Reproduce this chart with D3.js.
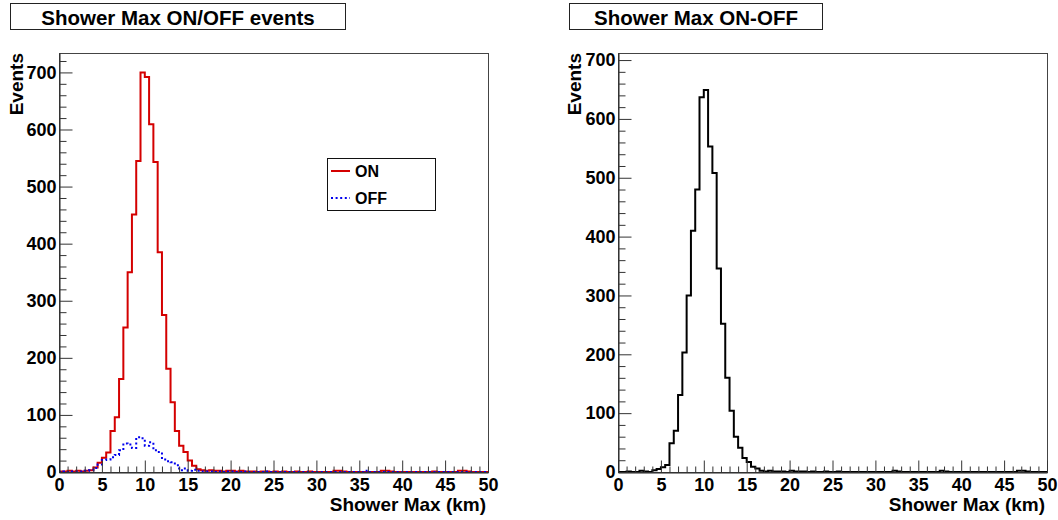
<!DOCTYPE html>
<html><head><meta charset="utf-8">
<script src="https://cdn.jsdelivr.net/npm/d3@7"></script>
<style>
body{margin:0;background:#fff}
svg{display:block}
text{font-family:"Liberation Sans",Arial,Helvetica,sans-serif;font-weight:bold;fill:#000}
</style>
</head><body>
<svg id="c" width="1058" height="520"></svg>
<script>
// ---------------- data ----------------
const binWidth = 0.5;            // km
const nBins = 100;               // 0 .. 50 km
const xMajorTicks = [0,5,10,15,20,25,30,35,40,45,50];
const xMinorTicks = [1,2,3,4,6,7,8,9,11,12,13,14,16,17,18,19,21,22,23,24,26,27,28,29,31,32,33,34,36,37,38,39,41,42,43,44,46,47,48,49];
const yMajorTicks = [0,100,200,300,400,500,600,700];
const yMinorTicks = [20,40,60,80,120,140,160,180,220,240,260,280,320,340,360,380,420,440,460,480,520,540,560,580,620,640,660,680,720];

const onEvents = [
  1,1,2,1,2,1,2,3,8,16,
  25,34,72,96,163,253,350,451,545,700,
  692,609,543,385,275,181,122,72,46,35,
  20,11,5,3,2,3,2,2,1,2,
  2,1,2,1,1,1,0,1,1,0,
  1,0,1,0,0,1,0,0,1,0,
  0,0,0,0,2,2,1,0,0,0,
  0,0,0,0,0,2,2,1,0,0,
  0,0,0,0,0,0,0,1,0,0,
  0,0,0,2,2,1,0,0,0,0
];
const offEvents = [
  0,1,0,1,1,1,2,3,7,13,
  21,22,26,30,38,50,48,42,61,59,
  46,52,38,35,22,19,17,12,3,6,
  2,4,2,1,1,1,0,1,0,1,
  1,0,0,1,0,0,0,0,1,0,
  0,0,0,0,0,0,0,0,0,0,
  0,0,0,0,0,0,0,0,0,0,
  0,2,0,0,0,0,0,0,0,0,
  0,0,0,0,0,0,0,0,0,0,
  0,0,0,0,0,0,0,0,0,0
];
const diffEvents = [
  0,0,1,0,0,2,1,0,3,5,
  8,12,49,70,131,203,300,410,480,637,
  649,553,508,346,252,160,104,60,41,24,
  17,9,6,2,1,2,1,1,1,0,
  2,1,1,1,0,1,0,0,1,0,
  0,1,0,0,0,0,0,0,0,0,
  0,0,0,0,2,1,0,0,0,0,
  0,0,0,0,0,2,1,0,0,0,
  0,0,0,0,0,0,0,0,0,0,
  0,0,0,2,2,1,0,0,0,0
];

const titles = ["Shower Max ON/OFF events", "Shower Max ON-OFF"];
const legendLabels = ["ON", "OFF"];
const xTitle = "Shower Max (km)";
const yTitle = "Events";

// ---------------- drawing ----------------
const svg = d3.select("#c");
const yTop = 53, yBottom = 472;

const panels = [
  {x0:59, x1:488, yMax:734, series:[{v:onEvents, color:"#d40000", dash:null},
                                     {v:offEvents, color:"#0000ee", dash:"2,2.6"}],
   title:titles[0], tbox:[10.5,3.5,335,26], yTitleX:23},
  {x0:618, x1:1047, yMax:712, series:[{v:diffEvents, color:"#000", dash:null}],
   title:titles[1], tbox:[569.5,3.5,253,26], yTitleX:581}
];

panels.forEach(p => {
  const x = d3.scaleLinear().domain([0,50]).range([p.x0, p.x1]);
  const y = d3.scaleLinear().domain([0,p.yMax]).range([yBottom, yTop]);
  const g = svg.append("g");

  // histograms
  const line = d3.line().curve(d3.curveStepAfter)
     .x(d => x(d[0])).y(d => y(d[1]));
  p.series.forEach(s => {
    const pts = s.v.map((v,i) => [i*binWidth, v]);
    pts.push([nBins*binWidth, s.v[nBins-1]]);
    g.append("path").attr("d", line(pts))
      .attr("fill","none").attr("stroke", s.color).attr("stroke-width",2)
      .attr("stroke-dasharray", s.dash);
  });

  // frame
  g.append("rect").attr("x",p.x0+0.5).attr("y",yTop+0.5)
    .attr("width",p.x1-p.x0).attr("height",yBottom-yTop)
    .attr("fill","none").attr("stroke","#444").attr("stroke-width",1);

  // x axis
  g.append("g").attr("transform",`translate(0,${yBottom+0.5})`)
    .call(d3.axisBottom(x).tickValues(xMajorTicks).tickFormat(d3.format("d"))
      .tickSizeInner(-12).tickSizeOuter(0).tickPadding(6));
  g.append("g").attr("transform",`translate(0,${yBottom+0.5})`)
    .call(d3.axisBottom(x).tickValues(xMinorTicks).tickFormat("")
      .tickSizeInner(-6).tickSizeOuter(0))
    .select(".domain").remove();
  // y axis
  g.append("g").attr("transform",`translate(${p.x0+0.5},0)`)
    .call(d3.axisLeft(y).tickValues(yMajorTicks).tickFormat(d3.format("d"))
      .tickSizeInner(-13).tickSizeOuter(0).tickPadding(3));
  g.append("g").attr("transform",`translate(${p.x0+0.5},0)`)
    .call(d3.axisLeft(y).tickValues(yMinorTicks.filter(t => t < p.yMax)).tickFormat("")
      .tickSizeInner(-7).tickSizeOuter(0))
    .select(".domain").remove();

  g.selectAll(".tick line").attr("stroke","#333");
  g.selectAll(".domain").attr("stroke","#222");
  g.selectAll(".tick text").attr("font-size",18)
    .attr("font-family",'"Liberation Sans",Arial,sans-serif').attr("font-weight","bold").attr("fill","#000");

  // axis titles
  g.append("text").attr("x",p.x1-2).attr("y",511).attr("text-anchor","end")
    .attr("font-size",19).text(xTitle);
  g.append("text").attr("transform",`translate(${p.yTitleX},${yTop})rotate(-90)`)
    .attr("text-anchor","end").attr("font-size",19).text(yTitle);

  // title box
  const [bx,by,bw,bh] = p.tbox;
  svg.append("rect").attr("x",bx).attr("y",by).attr("width",bw).attr("height",bh)
    .attr("fill","#fff").attr("stroke","#222").attr("stroke-width",1);
  svg.append("text").attr("x",bx+bw/2).attr("y",by+21.5).attr("text-anchor","middle")
    .attr("font-size",20.5).text(p.title);
});

// legend (left panel)
const leg = svg.append("g");
leg.append("rect").attr("x",327.5).attr("y",158.5).attr("width",108).attr("height",52)
  .attr("fill","#fff").attr("stroke","#111").attr("stroke-width",1);
const legItems = [
  {label:legendLabels[0], color:"#d40000", dash:null, y:171, ty:177},
  {label:legendLabels[1], color:"#0000ee", dash:"2,2.6", y:198, ty:204}
];
legItems.forEach(it => {
  leg.append("line").attr("x1",331).attr("x2",350).attr("y1",it.y).attr("y2",it.y)
    .attr("stroke",it.color).attr("stroke-width",2).attr("stroke-dasharray",it.dash);
  leg.append("text").attr("x",355).attr("y",it.ty).attr("font-size",16).text(it.label);
});
</script>
</body></html>
